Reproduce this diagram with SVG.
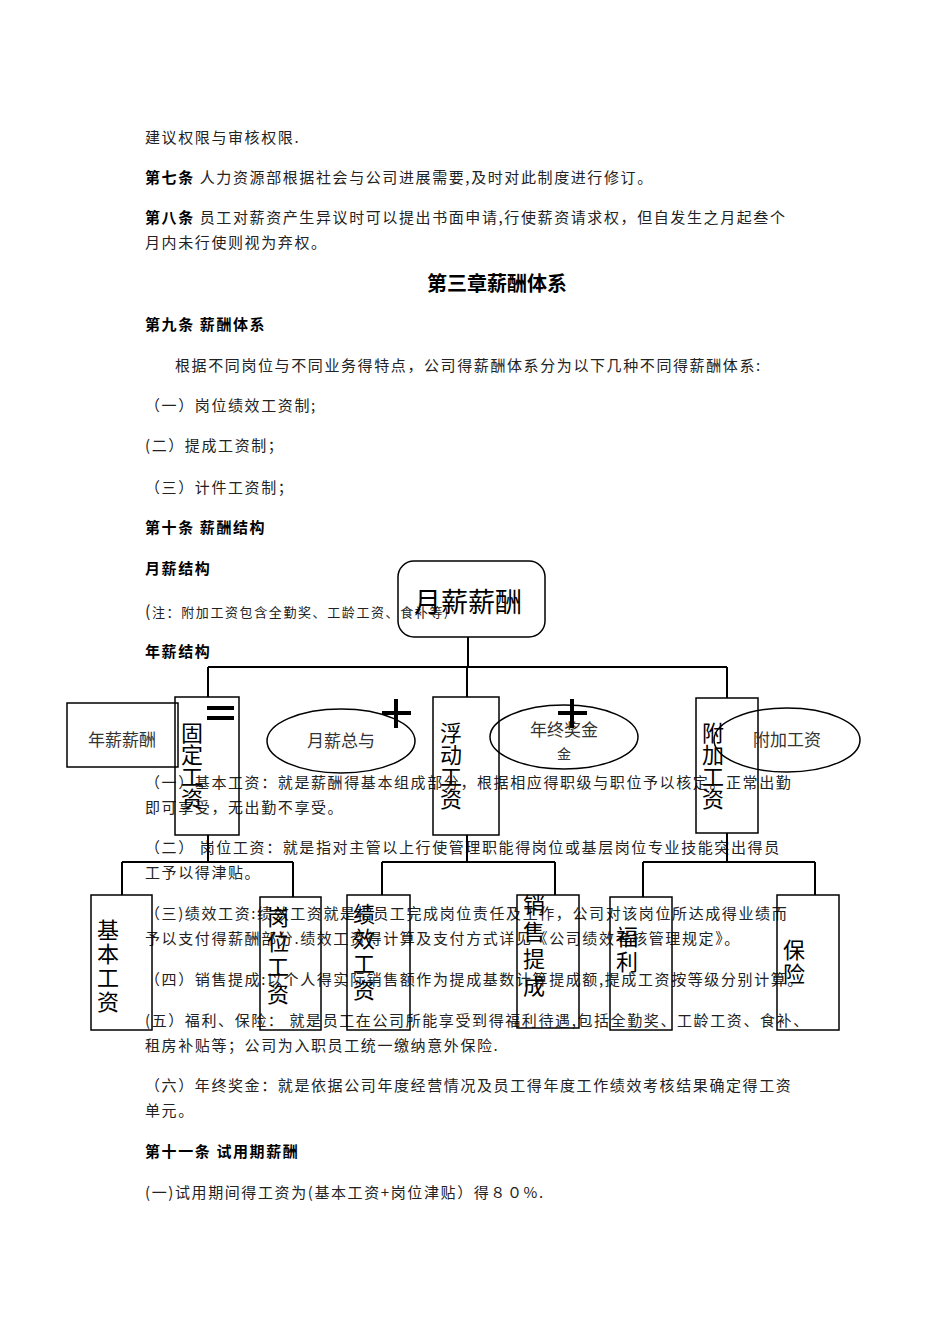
<svg xmlns="http://www.w3.org/2000/svg" width="950" height="1344" viewBox="0 0 950 1344">
<style>
.t{font-family:"Noto Sans CJK SC",sans-serif;font-size:15px;letter-spacing:1.6px;fill:#222}
.b{font-weight:bold;fill:#000}
.n{fill:none;stroke:#000;stroke-width:1.5}
.c{stroke:#000;stroke-width:2;fill:none}
.v{font-family:"Noto Sans CJK SC",sans-serif;font-size:22px;fill:#000;text-anchor:middle}
.e{font-family:"Noto Sans CJK SC",sans-serif;font-size:17px;fill:#333;text-anchor:middle}
</style>
<rect width="950" height="1344" fill="#fff"/>
<g id="body">
<text class="t" x="145" y="143">建议权限与审核权限.</text>
<text class="t" x="145" y="183"><tspan class="b">第七条</tspan>  人力资源部根据社会与公司进展需要,及时对此制度进行修订。</text>
<text class="t" x="145" y="223"><tspan class="b">第八条</tspan>   员工对薪资产生异议时可以提出书面申请,行使薪资请求权，但自发生之月起叁个</text>
<text class="t" x="145" y="248">月内未行使则视为弃权。</text>
<text class="t b" x="497" y="291" text-anchor="middle" style="font-size:20px;letter-spacing:0">第三章薪酬体系</text>
<text class="t b" x="145" y="330">第九条  薪酬体系</text>
<text class="t" x="175" y="371">根据不同岗位与不同业务得特点，公司得薪酬体系分为以下几种不同得薪酬体系:</text>
<text class="t" x="145" y="411">（一）岗位绩效工资制;</text>
<text class="t" x="145" y="451">(二）提成工资制；</text>
<text class="t" x="145" y="493">（三）计件工资制；</text>
<text class="t b" x="145" y="533">第十条  薪酬结构</text>
<text class="t b" x="145" y="574">月薪结构</text>
<text class="t" x="145" y="617"><tspan style="font-size:16px">(</tspan><tspan style="font-size:13px">注：附加工资包含全勤奖、工龄工资、食补等)</tspan></text>
<text class="t b" x="145" y="657">年薪结构</text>
<text class="t" x="145" y="788">（一）基本工资：就是薪酬得基本组成部分，根据相应得职级与职位予以核定。正常出勤</text>
<text class="t" x="145" y="813">即可享受，无出勤不享受。</text>
<text class="t" x="145" y="853">（二）   岗位工资：就是指对主管以上行使管理职能得岗位或基层岗位专业技能突出得员</text>
<text class="t" x="145" y="878">工予以得津贴。</text>
<text class="t" x="145" y="919">（三)绩效工资:绩效工资就是指员工完成岗位责任及工作，公司对该岗位所达成得业绩而</text>
<text class="t" x="145" y="944">予以支付得薪酬部分.绩效工资得计算及支付方式详见《公司绩效考核管理规定》。</text>
<text class="t" x="145" y="985">（四）销售提成:以个人得实际销售额作为提成基数计算提成额,提成工资按等级分别计算。</text>
<text class="t" x="145" y="1026">(五）福利、保险： 就是员工在公司所能享受到得福利待遇,包括全勤奖、工龄工资、食补、</text>
<text class="t" x="145" y="1051">租房补贴等；公司为入职员工统一缴纳意外保险.</text>
<text class="t" x="145" y="1091">（六）年终奖金：就是依据公司年度经营情况及员工得年度工作绩效考核结果确定得工资</text>
<text class="t" x="145" y="1116">单元。</text>
<text class="t b" x="145" y="1157">第十一条  试用期薪酬</text>
<text class="t" x="145" y="1198">(一)试用期间得工资为(基本工资+岗位津贴）得８０%.</text>
</g>
<g id="connectors">
<path class="c" d="M468 637V667M208 667H727M208 667V697M467 667V697M727 667V698"/>
<path class="c" d="M208 835V862M122 862H293M122 862V895M293 862V897"/>
<path class="c" d="M467 835V862M382 862H555M382 862V895M555 862V895"/>
<path class="c" d="M727 833V862M643 862H815M643 862V897M815 862V895"/>
</g>
<g id="n-top"><rect class="n" x="398" y="561" width="147" height="76" rx="16"/><text x="468" y="612" text-anchor="middle" style="font-family:'Noto Sans CJK SC',sans-serif;font-size:27px">月薪薪酬</text></g>
<g id="n-nianxin"><rect class="n" x="67" y="703" width="111" height="64"/><text class="e" x="122" y="746">年薪薪酬</text></g>
<g id="n-guding"><rect class="n" x="175" y="697" width="64" height="138"/><text class="v" x="192" y="741">固</text><text class="v" x="192" y="763">定</text><text class="v" x="192" y="785">工</text><text class="v" x="192" y="807">资</text></g>
<g id="n-fudong"><rect class="n" x="433" y="697" width="66" height="138"/><text class="v" x="451" y="741">浮</text><text class="v" x="451" y="763">动</text><text class="v" x="451" y="785">工</text><text class="v" x="451" y="807">资</text></g>
<g id="n-fujia"><rect class="n" x="696" y="698" width="62" height="135"/><text class="v" x="713" y="741">附</text><text class="v" x="713" y="763">加</text><text class="v" x="713" y="785">工</text><text class="v" x="713" y="807">资</text></g>
<g id="n-e1"><ellipse class="n" cx="341" cy="741" rx="74" ry="32"/><text class="e" x="341" y="747">月薪总与</text></g>
<g id="n-e2"><ellipse class="n" cx="564" cy="737" rx="74" ry="32"/><text class="e" x="564" y="736">年终奖金</text><text class="e" x="564" y="759" style="font-size:14px">金</text></g>
<g id="n-e3"><ellipse class="n" cx="787" cy="740" rx="73" ry="32"/><text class="e" x="787" y="746">附加工资</text></g>
<g id="ops" stroke="#000" stroke-width="4">
<path d="M207 708H234M207 718H234"/>
<path d="M382 713H411M396 699V728"/>
<path d="M558 713H587M572 699V728"/>
</g>
<g id="n-jiben"><rect class="n" x="91" y="895" width="61" height="135"/><text class="v" x="108" y="938">基</text><text class="v" x="108" y="962">本</text><text class="v" x="108" y="986">工</text><text class="v" x="108" y="1010">资</text></g>
<g id="n-gangwei"><rect class="n" x="260" y="897" width="61" height="133"/><text class="v" x="278" y="925">岗</text><text class="v" x="278" y="950">位</text><text class="v" x="278" y="975">工</text><text class="v" x="278" y="1002">资</text></g>
<g id="n-jixiao"><rect class="n" x="347" y="895" width="63" height="135"/><text class="v" x="364" y="922">绩</text><text class="v" x="364" y="947">效</text><text class="v" x="364" y="972">工</text><text class="v" x="364" y="998">资</text></g>
<g id="n-xiaoshou"><rect class="n" x="517" y="895" width="62" height="133"/><text class="v" x="534" y="913">销</text><text class="v" x="534" y="940">售</text><text class="v" x="534" y="967">提</text><text class="v" x="534" y="994">成</text></g>
<g id="n-fuli"><rect class="n" x="610" y="897" width="62" height="133"/><text class="v" x="627" y="945">福</text><text class="v" x="627" y="970">利</text></g>
<g id="n-baoxian"><rect class="n" x="777" y="895" width="62" height="135"/><text class="v" x="794" y="958">保</text><text class="v" x="794" y="982">险</text></g>
</svg>
